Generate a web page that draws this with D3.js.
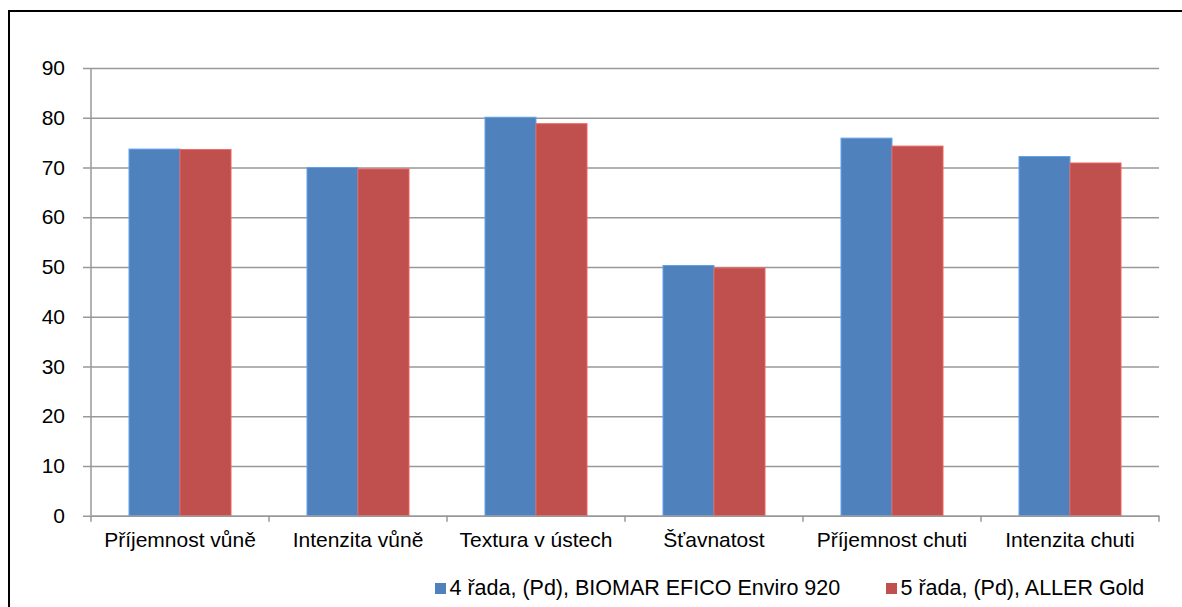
<!DOCTYPE html>
<html>
<head>
<meta charset="utf-8">
<script src="https://cdn.jsdelivr.net/npm/d3@7"></script>
<style>
  html, body { margin: 0; padding: 0; background: #fff; }
  svg { display: block; font-family: "Liberation Sans", Arial, sans-serif; }
</style>
</head>
<body>
<svg id="chart" width="1182" height="607"></svg>
<script>
// Sensory evaluation scores per attribute
const categories = ["Příjemnost vůně", "Intenzita vůně", "Textura v ústech", "Šťavnatost", "Příjemnost chuti", "Intenzita chuti"];
const seriesNames = ["4 řada, (Pd), BIOMAR EFICO Enviro 920", "5 řada, (Pd), ALLER Gold"];
const seriesA = [73.7, 70.0, 80.1, 50.3, 75.9, 72.2];
const seriesB = [73.6, 69.7, 78.8, 49.8, 74.3, 70.9];
const yTicks = [0, 10, 20, 30, 40, 50, 60, 70, 80, 90];
const colors = ["#4F81BD", "#C0504D"];

const FONT = "Liberation Sans, Arial, sans-serif";
const svg = d3.select("#chart");

// Outer chart frame
svg.append("rect")
  .attr("x", 9).attr("y", 11)
  .attr("width", 1200).attr("height", 620)
  .attr("fill", "none").attr("stroke", "#000").attr("stroke-width", 2);

const plot = { left: 91, right: 1159, top: 68, bottom: 515.7 };

const x = d3.scaleBand().domain(categories).range([plot.left, plot.right]).paddingInner(0).paddingOuter(0);
const y = d3.scaleLinear().domain([0, 90]).range([plot.bottom, plot.top]);
const inner = d3.scaleBand().domain([0, 1]).range([0, x.bandwidth()]).paddingOuter(0.745).paddingInner(0);

// Horizontal gridlines with left tick stubs
const yAxis = d3.axisLeft(y).tickValues(yTicks).tickSize(-(plot.right - plot.left)).tickPadding(26).tickFormat(d3.format("d"));
const gy = svg.append("g").attr("transform", `translate(${plot.left},0)`).call(yAxis);
gy.select(".domain").remove();
gy.selectAll(".tick line").attr("stroke", "#999").attr("stroke-width", 1.5).attr("x1", -8);
gy.selectAll(".tick text").attr("font-size", 21).attr("fill", "#000").attr("font-family", FONT);

// Vertical axis line
svg.append("line")
  .attr("x1", plot.left).attr("x2", plot.left)
  .attr("y1", plot.top).attr("y2", plot.bottom)
  .attr("stroke", "#999").attr("stroke-width", 1.5);

// Bars
const groups = svg.append("g").selectAll("g").data(categories).join("g")
  .attr("transform", d => `translate(${x(d)},0)`);
[seriesA, seriesB].forEach((vals, si) => {
  groups.append("rect")
    .attr("x", inner(si))
    .attr("y", (d, i) => y(vals[i]))
    .attr("width", inner.bandwidth())
    .attr("height", (d, i) => y(0) - y(vals[i]))
    .attr("fill", colors[si])
    .attr("stroke", d3.color(colors[si]).brighter(0.6))
    .attr("stroke-width", 1);
});

// Category axis
const xAxis = d3.axisBottom(x).tickSize(0).tickPadding(16);
const gx = svg.append("g").attr("transform", `translate(0,${plot.bottom})`).call(xAxis);
gx.select(".domain").attr("stroke", "#999").attr("stroke-width", 1.5);
gx.selectAll(".tick text").attr("font-size", 21).attr("fill", "#000").attr("font-family", FONT);
const bounds = categories.map(c => x(c)).concat([plot.right]);
svg.append("g").selectAll("line").data(bounds).join("line")
  .attr("x1", d => d).attr("x2", d => d)
  .attr("y1", plot.bottom).attr("y2", plot.bottom + 6)
  .attr("stroke", "#999").attr("stroke-width", 1.5);

// Legend
const legendX = [435, 886];
const legend = svg.append("g").selectAll("g").data(seriesNames).join("g")
  .attr("transform", (d, i) => `translate(${legendX[i]},583)`);
legend.append("rect").attr("width", 11).attr("height", 11).attr("y", 0)
  .attr("fill", (d, i) => colors[i]);
legend.append("text").attr("x", 14.5).attr("y", 12)
  .attr("font-size", 21.5).attr("fill", "#000").attr("font-family", FONT)
  .text(d => d);
</script>
</body>
</html>
